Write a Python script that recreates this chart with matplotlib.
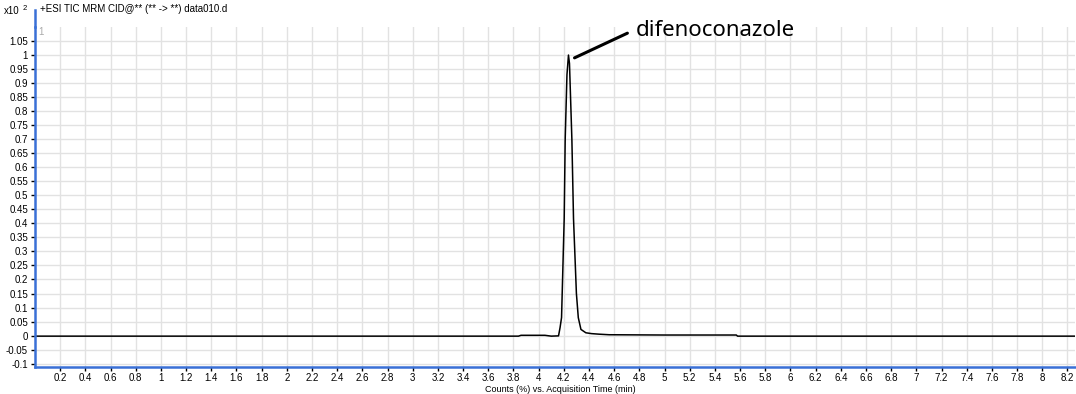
import matplotlib.pyplot as plt
from matplotlib.lines import Line2D
from matplotlib.ticker import FormatStrFormatter

# chromatogram (time in min, counts x10^2)
time = [0.0, 3.84, 3.86, 4.05, 4.1, 4.158, 4.17, 4.182, 4.203, 4.211, 4.225, 4.237,
        4.245, 4.264, 4.277, 4.3, 4.315, 4.336, 4.375, 4.42, 4.48, 4.56, 5.0, 5.57,
        5.58, 8.26]
counts = [-0.002, -0.002, 0.001, 0.001, -0.002, -0.001, 0.028, 0.064, 0.417, 0.7,
          0.93, 1.0, 0.97, 0.7, 0.417, 0.15, 0.064, 0.022, 0.01, 0.007, 0.005, 0.003,
          0.002, 0.002, -0.002, -0.002]

x_ticks = [round(0.2 * i, 1) for i in range(1, 42)]
y_ticks = [round(-0.1 + 0.05 * i, 2) for i in range(24)]

title = "+ESI TIC MRM CID@** (** -> **) data010.d"
x_label = "Counts (%) vs. Acquisition Time (min)"
peak_name = "difenoconazole"

plt.rcParams['font.family'] = ['Liberation Sans', 'DejaVu Sans']

W, H = 1076, 394
fig = plt.figure(figsize=(W / 100, H / 100), dpi=100)
left, right, top, bottom = 35, 1075, 27, 367
ax = fig.add_axes([left / W, 1 - bottom / H, (right - left) / W, (bottom - top) / H])

ax.plot(time, counts, color="black", lw=1.1)
ax.set_xlim(0.0, 8.26)
ax.set_ylim(-0.112, 1.1)

ax.set_xticks(x_ticks)
ax.set_yticks(y_ticks)
ax.xaxis.set_major_formatter(FormatStrFormatter("%g"))
ax.yaxis.set_major_formatter(FormatStrFormatter("%g"))
ax.tick_params(labelsize=7, length=3, width=1, color="black", pad=2)
ax.tick_params(axis="x", pad=1)
ax.grid(True, color="#e2e2e2", lw=1)
ax.set_axisbelow(True)

for s in ["top", "right"]:
    ax.spines[s].set_visible(False)
for s in ["left", "bottom"]:
    ax.spines[s].set_color("#3a70d6")
    ax.spines[s].set_linewidth(1.8)

# blue axis line continues up past the title
fig.add_artist(Line2D([left / W, left / W], [1 - top / H, 1 - 10 / H],
                      color="#3a70d6", lw=1.8))

fig.text(40 / W, 1 - 9 / H, title, fontsize=7, va="center", ha="left")
fig.text(4 / W, 1 - 11 / H, "x10", fontsize=7, va="center", ha="left")
fig.text(23 / W, 1 - 8 / H, "2", fontsize=5.5, va="center", ha="left")
fig.text(38 / W, 1 - 32 / H, "1", fontsize=7, color="#aaaaaa", va="center", ha="left")
fig.text(560 / W, 1 - 393.5 / H, x_label, fontsize=6.5, va="bottom", ha="center")

# peak label with leader line
ax.annotate("", xy=(4.285, 0.99), xytext=(4.705, 1.078),
            arrowprops=dict(arrowstyle="-", color="black", lw=2.2,
                            shrinkA=0, shrinkB=0))
ax.text(4.77, 1.087, peak_name, fontsize=16, family=["Noto Sans", "DejaVu Sans"],
        va="center", ha="left")

fig.savefig("out.png", dpi=100)
